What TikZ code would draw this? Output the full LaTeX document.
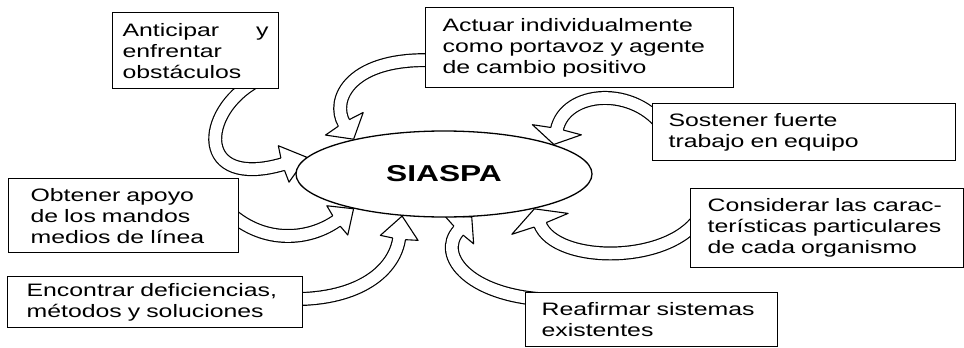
\documentclass[tikz,border=0pt]{standalone}
\usepackage{fontspec}
\setmainfont{Liberation Sans}[FakeStretch=1.38]
\usetikzlibrary{shapes.geometric,decorations.markings,backgrounds}

\tikzset{
	caja/.style={draw, line width=1.2pt, fill=white, anchor=north west, inner xsep=0pt, inner ysep=0pt, align=left, font=\fontsize{18}{21}\selectfont},
	flecha/.style 2 args={line width=14pt, black, shorten >=#2pt,
		postaction={draw, white, line width=11.6pt},
		postaction={decorate, decoration={markings, mark=at position 0.999 with {
			\draw[line width=1.1pt, black, fill=white, line join=round, shorten >=0pt] (-#2pt-1pt,6.4pt) -- (-#2pt,#1pt/2) -- (0pt,0pt) -- (-#2pt,-#1pt/2) -- (-#2pt-1pt,-6.4pt);}}}}
}

\begin{document}
\begin{tikzpicture}[x=1pt,y=-1pt]
		\useasboundingbox (0,0) rectangle (964,348);
		%
		\node[caja, minimum width=166pt, minimum height=76pt, text width=146pt] (anticipar) at (112,12) {Anticipar\hfill y\\enfrentar\\obstáculos};
		\node[caja, minimum width=308pt, minimum height=80pt, text width=274pt] (actuar) at (425,7) {Actuar individualmente\\como portavoz y agente\\de cambio positivo};
		\node[caja, minimum width=303pt, minimum height=57pt, text width=271pt] (sostener) at (652,103) {Sostener fuerte\\trabajo en equipo};
		\node[caja, minimum width=230pt, minimum height=74pt, text width=186pt] (obtener) at (8,178) {Obtener apoyo\\de los mandos\\medios de línea};
		\node[caja, minimum width=295pt, minimum height=51pt, text width=257pt] (encontrar) at (7,276) {Encontrar deficiencias,\\métodos y soluciones};
		\node[caja, minimum width=273pt, minimum height=79pt, text width=239pt] (considerar) at (690,188) {Considerar las carac-\\terísticas particulares\\de cada organismo};
		\node[caja, minimum width=252pt, minimum height=54pt, text width=220pt] (reafirmar) at (525,292) {Reafirmar sistemas\\existentes};
		%
		\node[draw, ellipse, line width=1.3pt, fill=white, minimum width=296pt, minimum height=86pt, inner sep=0pt, font=\fontsize{23}{26}\selectfont\bfseries] (siaspa) at (444,174) {SIASPA};
		%
		\begin{scope}[on background layer]
		\draw[flecha={38}{24}] ([shift={(60,-8)}]anticipar.south) .. controls (200,112) and (195,190) .. (siaspa.173);
		\draw[flecha={44}{18}] ([shift={(15,13)}]actuar.west) .. controls (350,55) and (330,100) .. (siaspa.159);
		\draw[flecha={50}{15}] ([shift={(13,-3)}]sostener.west) .. controls (635,85) and (565,90) .. (siaspa.15);
		\draw[flecha={60}{16}] ([shift={(12,-15)}]considerar.west) .. controls (675,265) and (555,265) .. (siaspa.339);
		\draw[flecha={40}{18}] ([shift={(35,8)}]reafirmar.north west) .. controls (470,300) and (435,255) .. (siaspa.303);
		\draw[flecha={38}{22}] ([shift={(-12,-3)}]encontrar.east) .. controls (360,300) and (395,270) .. (siaspa.225);
		\draw[flecha={36}{20}] ([shift={(-10,-3)}]obtener.east) .. controls (265,245) and (310,240) .. (siaspa.201);
		\end{scope}
	\end{tikzpicture}
\end{document}
